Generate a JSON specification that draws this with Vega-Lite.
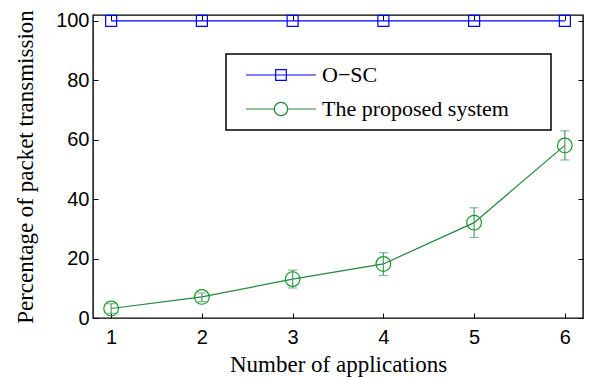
{
  "$schema": "https://vega.github.io/schema/vega-lite/v6.json",
  "width": 490,
  "height": 303,
  "autosize": "none",
  "padding": {"left": 93, "top": 15, "right": 6, "bottom": 59},
  "background": "white",
  "data": {
    "values": [
      {"n": 1, "series": "O−SC", "value": 100},
      {"n": 2, "series": "O−SC", "value": 100},
      {"n": 3, "series": "O−SC", "value": 100},
      {"n": 4, "series": "O−SC", "value": 100},
      {"n": 5, "series": "O−SC", "value": 100},
      {"n": 6, "series": "O−SC", "value": 100},
      {"n": 1, "series": "The proposed system", "value": 3.2, "lo": 1.6, "hi": 4.8},
      {"n": 2, "series": "The proposed system", "value": 7.1, "lo": 5.5, "hi": 8.4},
      {"n": 3, "series": "The proposed system", "value": 13.1, "lo": 10.1, "hi": 16.1},
      {"n": 4, "series": "The proposed system", "value": 18.2, "lo": 14.3, "hi": 22},
      {"n": 5, "series": "The proposed system", "value": 32.1, "lo": 27.1, "hi": 37.1},
      {"n": 6, "series": "The proposed system", "value": 58.1, "lo": 53.2, "hi": 63}
    ]
  },
  "resolve": {"axis": {"x": "independent", "y": "independent"}},
  "layer": [
    {
      "mark": {"type": "line", "strokeWidth": 1.2},
      "encoding": {
        "x": {"field": "n", "type": "quantitative", "scale": {"domain": [0.8, 6.2], "nice": false, "zero": false},
          "axis": {"orient": "bottom", "values": [1, 2, 3, 4, 5, 6], "title": "Number of applications", "labelPadding": 14, "titlePadding": 6}},
        "y": {"field": "value", "type": "quantitative", "scale": {"domain": [0, 102], "nice": false},
          "axis": {"orient": "left", "values": [0, 20, 40, 60, 80, 100], "title": "Percentage of packet transmission", "labelPadding": 9, "titlePadding": 18}},
        "color": {"field": "series", "type": "nominal",
          "scale": {"domain": ["O−SC", "The proposed system"], "range": ["#0000ff", "#22883a"]},
          "legend": {
            "orient": "none", "legendX": 133, "legendY": 39, "title": null,
            "strokeColor": "black", "fillColor": "white", "padding": 10,
            "symbolSize": 180, "symbolStrokeWidth": 1.2, "symbolOffset": 34, "labelOffset": 30, "rowPadding": 12,
            "labelFont": "Liberation Serif", "labelFontSize": 22, "labelColor": "black", "labelLimit": 500,
            "labelExpr": "datum.label + '\u2800\u2800'",
            "encode": {
              "legend": {"update": {"strokeWidth": {"value": 1.5}}},
              "symbols": {"update": {
                "shape": {"signal": "datum.value === 'O−SC' ? 'M-5.21,0H5.21M-0.79,-0.79H0.79V0.79H-0.79Z' : 'M-5.21,0H-1M1,0H5.21M1,0A1,1 0 1,1 -1,0A1,1 0 1,1 1,0'"},
                "fill": {"value": "transparent"}
              }}
            }
          }}
      }
    },
    {
      "transform": [{"filter": "datum.series === 'The proposed system'"}],
      "mark": {"type": "errorbar", "ticks": {"size": 9}, "color": "#4f9a6f", "thickness": 1.2},
      "encoding": {
        "x": {"field": "n", "type": "quantitative", "axis": {"orient": "top", "values": [1, 2, 3, 4, 5, 6], "labels": false, "title": null}},
        "y": {"field": "lo", "type": "quantitative", "axis": {"orient": "right", "values": [0, 20, 40, 60, 80, 100], "labels": false, "title": null}},
        "y2": {"field": "hi"}
      }
    },
    {
      "transform": [{"filter": "datum.series === 'O−SC'"}],
      "mark": {"type": "point", "shape": "square", "filled": false, "size": 121, "stroke": "#0000ff", "strokeWidth": 1.2, "opacity": 1},
      "encoding": {
        "x": {"field": "n", "type": "quantitative", "axis": null},
        "y": {"field": "value", "type": "quantitative", "axis": null}
      }
    },
    {
      "transform": [{"filter": "datum.series === 'The proposed system'"}],
      "mark": {"type": "point", "shape": "circle", "filled": false, "size": 216, "stroke": "#1a9a2a", "strokeWidth": 1.2, "opacity": 1},
      "encoding": {
        "x": {"field": "n", "type": "quantitative", "axis": null},
        "y": {"field": "value", "type": "quantitative", "axis": null}
      }
    }
  ],
  "config": {
    "view": {"stroke": "black", "strokeWidth": 1.4},
    "axis": {
      "domain": false, "grid": false, "tickSize": -5, "tickColor": "black", "tickWidth": 1,
      "labelFont": "Liberation Sans", "labelFontSize": 20, "labelColor": "black",
      "titleFont": "Liberation Serif", "titleFontSize": 23, "titleFontWeight": "normal", "titleColor": "black"
    }
  }
}
